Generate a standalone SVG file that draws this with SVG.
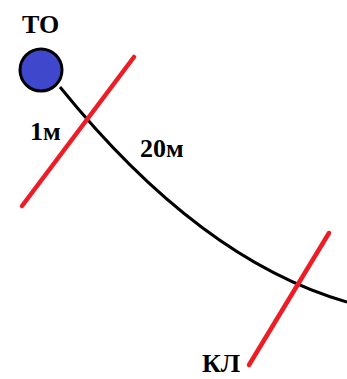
<svg xmlns="http://www.w3.org/2000/svg" width="347" height="379" viewBox="0 0 347 379">
<style>
.lbl{font-family:"Liberation Serif","DejaVu Serif",serif;font-weight:bold;font-size:26px;fill:#000}
.cut{stroke:#ee1c25;stroke-width:4.5;stroke-linecap:round;fill:none}
.cable{stroke:#000;stroke-width:3;fill:none}
</style>
<rect width="347" height="379" fill="#fff"/>
<g id="connectors">
<path class="cable" d="M60,87 Q200,260 347,302"/>
</g>
<g id="node-TO">
<circle cx="41" cy="70" r="21" fill="#3f48cc" stroke="#000" stroke-width="3"/>
<text class="lbl" x="22" y="33">ТО</text>
</g>
<g id="cut-1">
<line class="cut" x1="134" y1="57" x2="22" y2="206"/>
<text class="lbl" x="30" y="140">1м</text>
</g>
<g id="label-20">
<text class="lbl" x="140" y="157">20м</text>
</g>
<g id="cut-KL">
<line class="cut" x1="329" y1="233" x2="249" y2="365"/>
<text class="lbl" x="202" y="372">КЛ</text>
</g>
</svg>
